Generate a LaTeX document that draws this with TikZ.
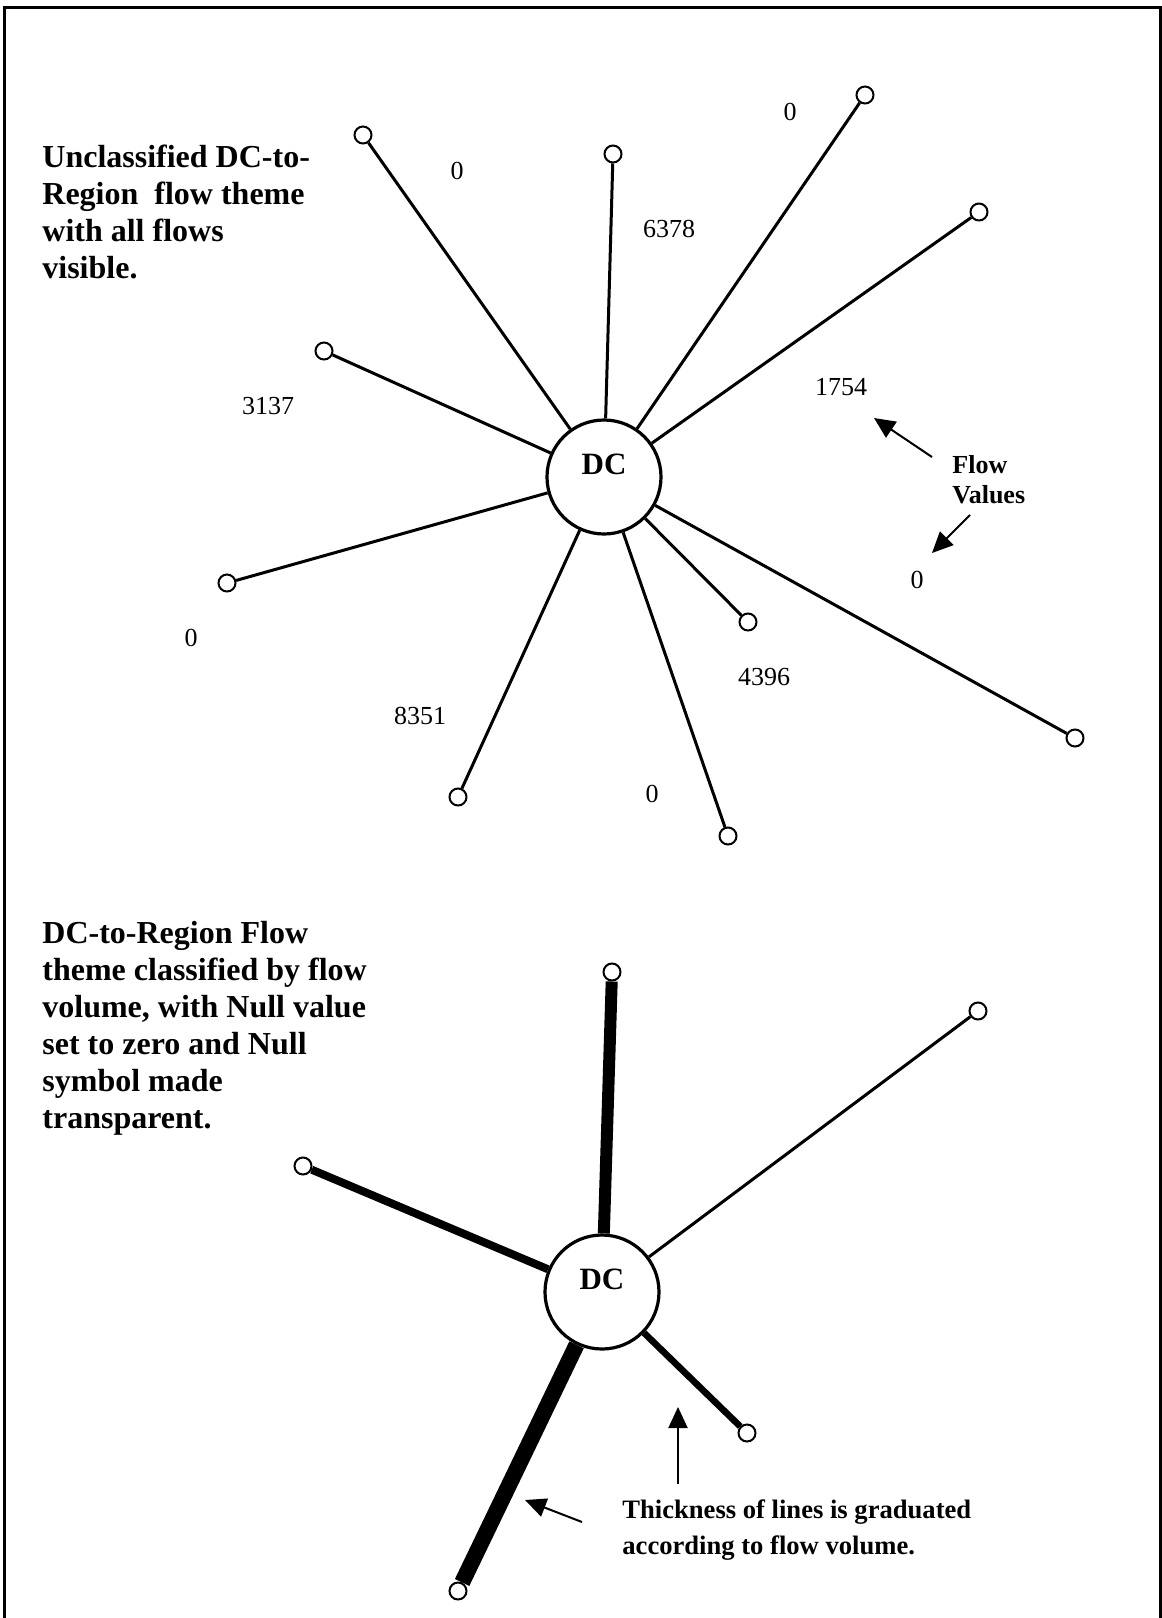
\documentclass[tikz,border=0pt]{standalone}
\usepackage{fontspec}
\setmainfont{Liberation Serif}
\usetikzlibrary{arrows.meta}

\tikzset{
  hub/.style={circle, draw, line width=1.6pt, minimum size=57pt, inner sep=0pt,
    font=\fontsize{15.5}{18}\selectfont\bfseries, text height=10pt, text depth=13pt},
  region/.style={circle, draw, line width=1pt, minimum size=8.5pt, inner sep=0pt},
  flowval/.style={font=\fontsize{13}{15}\selectfont},
  heading/.style={anchor=north west, align=left, inner sep=0pt,
    font=\fontsize{16}{18.5}\selectfont\bfseries},
  pointer/.style={line width=1pt, -{Triangle[length=10.5pt,width=9.5pt]}}
}

\begin{document}
\begin{tikzpicture}[x=0.5pt, y=-0.5pt]
 \useasboundingbox (0,0) rectangle (1162,1618);
 \draw [line width=1.5pt] (4,1618) -- (4,7) -- (1160,7) -- (1160,1618);

 \node [heading] (title1) at (42,145) {Unclassified DC-to-\\Region\ \ flow theme\\with all flows\\visible.};

 \node [hub] (dc1) at (604,477) {DC};
 \node [region] (r1) at (363,135) {};
 \node [region] (r2) at (613,154) {};
 \node [region] (r3) at (865,95) {};
 \node [region] (r4) at (979,212) {};
 \node [region] (r5) at (324,351) {};
 \node [region] (r6) at (227,583) {};
 \node [region] (r7) at (458,797) {};
 \node [region] (r8) at (728,836) {};
 \node [region] (r9) at (748,622) {};
 \node [region] (r10) at (1075,738) {};

 \draw [line width=1.5pt] (dc1) edge (r1) edge (r2) edge (r3) edge (r4) edge (r5)
   edge (r6) edge (r7) edge (r8) edge (r9) edge (r10);

 \node [flowval] (v1) at (457,171) {0};
 \node [flowval] (v2) at (669,229) {6378};
 \node [flowval] (v3) at (790,112) {0};
 \node [flowval] (v4) at (841,387) {1754};
 \node [flowval] (v5) at (268,406) {3137};
 \node [flowval] (v6) at (191,638) {0};
 \node [flowval] (v7) at (420,716) {8351};
 \node [flowval] (v8) at (652,794) {0};
 \node [flowval] (v9) at (764,677) {4396};
 \node [flowval] (v10) at (917,580) {0};

 \node [anchor=north west, align=left, inner sep=0pt,
   font=\fontsize{13}{15}\selectfont\bfseries] (fv) at (952,455) {Flow\\Values};
 \coordinate (fvA) at (932,457);
 \coordinate (tipA) at (874,418);
 \coordinate (fvB) at (970,515);
 \coordinate (tipB) at (932,553);
 \draw [pointer] (fvA) -- (tipA);
 \draw [pointer] (fvB) -- (tipB);

 \node [heading] (title2) at (42,921) {DC-to-Region Flow\\theme classified by flow\\volume, with Null value\\set to zero and Null\\symbol made\\transparent.};

 \node [hub] (dc2) at (602,1292) {DC};
 \node [region] (s1) at (612,972) {};
 \node [region] (s2) at (978,1011) {};
 \node [region] (s3) at (303,1166) {};
 \node [region] (s4) at (747,1433) {};
 \node [region] (s5) at (458,1591) {};

 \draw (dc2) edge [line width=6pt] (s1)
   edge [line width=1.5pt] (s2)
   edge [line width=4pt] (s3)
   edge [line width=3.3pt] (s4)
   edge [line width=8pt] (s5);

 \node [heading, font=\fontsize{13.3}{18}\selectfont\bfseries] (note) at (622,1499)
   {Thickness of lines is graduated\\according to flow volume.};
 \coordinate (noteA) at (678,1484);
 \coordinate (tipC) at (678,1407);
 \coordinate (noteB) at (582,1522);
 \coordinate (tipD) at (525,1500);
 \draw [pointer] (noteA) -- (tipC);
 \draw [pointer] (noteB) -- (tipD);
\end{tikzpicture}
\end{document}
